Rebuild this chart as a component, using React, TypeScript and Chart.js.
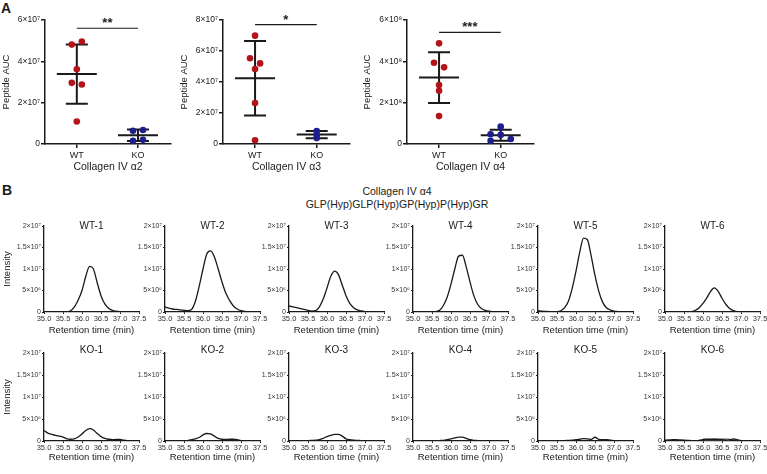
import React, { useEffect, useRef } from 'react';
import { Chart, registerables } from 'chart.js';

Chart.register(...registerables);

const FONT = '"Liberation Sans", Arial, Helvetica, sans-serif';
Chart.defaults.font.family = FONT;
Chart.defaults.color = '#222';

// ---------------- Panel A data ----------------
const groupLabels = ['WT', 'KO'];

const a2WT = [4.81e7, 4.96e7, 3.62e7, 2.96e7, 2.88e7, 1.09e7];
const a2KO = [0.64e7, 0.68e7, 0.16e7, 0.2e7];
const a2WTJitter = [-1, 1, 0, -1, 1, 0];
const a2KOJitter = [-1, 1, -1, 1];

const a3WT = [6.99e7, 5.53e7, 5.2e7, 4.84e7, 2.65e7, 0.24e7];
const a3KO = [0.84e7, 0.6e7, 0.38e7];
const a3WTJitter = [0, -1, 1, 0, 0, 0];
const a3KOJitter = [0, 0, 0];

const a4WT = [4.87e8, 3.93e8, 3.71e8, 2.85e8, 2.58e8, 1.35e8];
const a4KO = [0.84e8, 0.47e8, 0.44e8, 0.24e8, 0.15e8];
const a4WTJitter = [0, -1, 1, 0, 0, 0];
const a4KOJitter = [0, -2, 0, 2, -2];

const a2YTicks = ['0', '2×10⁷', '4×10⁷', '6×10⁷'];
const a3YTicks = ['0', '2×10⁷', '4×10⁷', '6×10⁷', '8×10⁷'];
const a4YTicks = ['0', '2×10⁸', '4×10⁸', '6×10⁸'];
const yMaxA = [6e7, 8e7, 6e8];
const yStepA = [2e7, 2e7, 2e8];

const panelATitles = ['Collagen IV α2', 'Collagen IV α3', 'Collagen IV α4'];
const sigMarks = ['**', '*', '***'];
const sigLevels = [5.6e7, 7.7e7, 5.4e8];

// ---------------- Panel B data (intensity in units of 1e6) ----------------
const rtGrid = [35.0, 35.1, 35.2, 35.3, 35.4, 35.5, 35.6, 35.7, 35.8, 35.9, 36.0, 36.1, 36.2,
  36.3, 36.4, 36.5, 36.6, 36.7, 36.8, 36.9, 37.0, 37.1, 37.2, 37.3, 37.4, 37.5];

const wt1 = [0, 0, 0, 0, 0, 0, 0.05, 0.3, 1.2, 2.8, 5.0, 8.3, 10.6, 10.0, 6.8, 3.8, 1.9, 0.9, 0.4, 0.2, 0.1, 0.05, 0, 0];
const wt2 = [1.2, 0.9, 0.7, 0.6, 0.5, 0.4, 0.3, 0.6, 2.5, 6.0, 10.0, 13.5, 14.2, 12.8, 10.0, 7.0, 4.4, 2.7, 1.4, 0.7, 0.3, 0.15, 0.05, 0];
const wt3 = [1.4, 1.2, 1.0, 0.8, 0.6, 0.4, 0.2, 0.3, 1.2, 3.0, 5.6, 8.3, 9.5, 8.7, 6.3, 3.8, 2.0, 1.0, 0.5, 0.25, 0.1, 0.05, 0];
const wt4 = [0, 0, 0, 0, 0, 0, 0.1, 0.4, 1.5, 3.5, 6.5, 10.0, 13.0, 13.2, 10.5, 7.0, 3.8, 1.8, 0.8, 0.4, 0.2, 0.1, 0.05, 0.02, 0];
const wt5 = [0.3, 0.2, 0.15, 0.1, 0.1, 0.1, 0.3, 1.0, 2.5, 5.5, 9.5, 14.0, 17.2, 16.8, 13.0, 8.5, 4.8, 2.3, 1.0, 0.5, 0.2, 0.1, 0.05, 0];
const wt6 = [0, 0, 0, 0, 0, 0, 0, 0.1, 0.4, 1.0, 2.0, 3.3, 4.8, 5.6, 4.8, 3.2, 1.8, 0.8, 0.3, 0.1, 0.05, 0, 0, 0];

const ko1 = [2.4, 1.8, 1.5, 1.3, 1.1, 0.9, 0.5, 0.4, 0.5, 0.9, 1.6, 2.4, 2.8, 2.5, 1.7, 1.0, 0.6, 0.4, 0.3, 0.35, 0.35, 0.2, 0.1, 0.05];
const ko2 = [0, 0, 0, 0, 0, 0.05, 0.1, 0.3, 0.5, 0.8, 1.4, 1.7, 1.6, 1.1, 0.6, 0.4, 0.35, 0.4, 0.4, 0.3, 0.1, 0];
const ko3 = [0, 0, 0, 0, 0, 0.1, 0.15, 0.2, 0.3, 0.6, 1.0, 1.3, 1.5, 1.5, 1.1, 0.5, 0.3, 0.2, 0.15, 0.1, 0.05, 0];
const ko4 = [0.05, 0.05, 0.05, 0.05, 0.05, 0.05, 0.05, 0.1, 0.15, 0.3, 0.5, 0.7, 0.9, 0.9, 0.6, 0.3, 0.15, 0.1, 0.05, 0.05, 0];
const ko5 = [0.05, 0.05, 0.05, 0.05, 0.05, 0.05, 0.05, 0.1, 0.15, 0.2, 0.3, 0.4, 0.55, 0.5, 0.35, 0.85, 0.35, 0.3, 0.3, 0.2, 0.1, 0];
const ko6 = [0.2, 0.25, 0.3, 0.3, 0.25, 0.2, 0.15, 0.1, 0.1, 0.15, 0.3, 0.35, 0.35, 0.4, 0.35, 0.3, 0.2, 0.3, 0.45, 0.3, 0.1, 0.05, 0];
const ko6GrayTimes = [36.0, 36.1, 36.2, 36.3, 36.4, 36.5, 36.6, 36.7];
const ko6Gray = [0.4, 0.42, 0.42, 0.42, 0.42, 0.42, 0.4, 0.35];

const wtNames = ['WT-1', 'WT-2', 'WT-3', 'WT-4', 'WT-5', 'WT-6'];
const koNames = ['KO-1', 'KO-2', 'KO-3', 'KO-4', 'KO-5', 'KO-6'];
const traceYTicks = ['0', '5×10⁶', '1×10⁷', '1.5×10⁷', '2×10⁷'];

const RED = '#b3141c';
const BLUE = '#1e1e8e';
const INK = '#1a1a1a';

// ---------------- plugins ----------------
const meanSdPlugin = {
  id: 'meanSd',
  beforeDatasetsDraw(chart: any, _a: any, opts: any) {
    const { ctx } = chart;
    const x = chart.scales.x;
    const y = chart.scales.y;
    ctx.save();
    ctx.strokeStyle = INK;
    ctx.lineWidth = 2;
    chart.data.datasets.forEach((ds: any, di: number) => {
      const vals = ds.data.map((p: any) => p.y);
      const n = vals.length;
      const m = vals.reduce((a: number, b: number) => a + b, 0) / n;
      const sd = Math.sqrt(vals.reduce((a: number, b: number) => a + (b - m) * (b - m), 0) / (n - 1));
      const cx = x.getPixelForValue(di + 1);
      const ym = y.getPixelForValue(m);
      const yt = y.getPixelForValue(m + sd);
      const yb = y.getPixelForValue(Math.max(m - sd, 0));
      ctx.beginPath();
      ctx.moveTo(cx - 20, ym); ctx.lineTo(cx + 20, ym);
      ctx.moveTo(cx, yt); ctx.lineTo(cx, yb);
      ctx.moveTo(cx - 11, yt); ctx.lineTo(cx + 11, yt);
      ctx.moveTo(cx - 11, yb); ctx.lineTo(cx + 11, yb);
      ctx.stroke();
    });
    // significance bar
    const x1 = x.getPixelForValue(1);
    const x2 = x.getPixelForValue(2);
    const ys = y.getPixelForValue(opts.level);
    ctx.lineWidth = 1.2;
    ctx.beginPath();
    ctx.moveTo(x1, ys); ctx.lineTo(x2, ys);
    ctx.stroke();
    ctx.fillStyle = INK;
    ctx.font = `bold 13px ${FONT}`;
    ctx.textAlign = 'center';
    ctx.textBaseline = 'alphabetic';
    ctx.fillText(opts.mark, (x1 + x2) / 2, ys - 1);
    ctx.restore();
  },
};

const panelTitlePlugin = {
  id: 'panelTitle',
  afterDraw(chart: any, _a: any, opts: any) {
    if (!opts || !opts.text) return;
    const { ctx, chartArea } = chart;
    ctx.save();
    ctx.font = `10px ${FONT}`;
    ctx.fillStyle = INK;
    ctx.textAlign = 'center';
    ctx.textBaseline = 'middle';
    ctx.fillText(opts.text, (chartArea.left + chartArea.right) / 2, chartArea.top + opts.offset);
    ctx.restore();
  },
};

// ---------------- Panel A chart ----------------
function ScatterChart(props: any) {
  const ref = useRef<HTMLCanvasElement>(null);
  const { left, yWidth, plotWidth, wt, ko, wtJ, koJ, idx, yTicks } = props;
  const width = yWidth + plotWidth + 4;
  const height = 173;
  useEffect(() => {
    const JIT = 0.082;
    const chart = new Chart(ref.current as HTMLCanvasElement, {
      type: 'scatter',
      data: {
        datasets: [
          {
            data: wt.map((v: number, i: number) => ({ x: 1 + wtJ[i] * JIT, y: v })),
            backgroundColor: RED, borderColor: RED, pointRadius: 3.3, pointHoverRadius: 3.3, borderWidth: 0,
          },
          {
            data: ko.map((v: number, i: number) => ({ x: 2 + koJ[i] * JIT, y: v })),
            backgroundColor: BLUE, borderColor: BLUE, pointRadius: 3.3, pointHoverRadius: 3.3, borderWidth: 0,
          },
        ],
      },
      options: {
        responsive: false,
        animation: false,
        layout: { padding: { top: 20, right: 4, left: 0, bottom: 0 } },
        plugins: {
          legend: { display: false },
          tooltip: { enabled: false },
          meanSd: { mark: sigMarks[idx], level: sigLevels[idx] },
        } as any,
        scales: {
          x: {
            type: 'linear', min: 0.48, max: 2.54,
            afterBuildTicks: (s: any) => { s.ticks = [{ value: 1 }, { value: 2 }]; },
            ticks: {
              callback: (_v: any, i: number) => groupLabels[i],
              font: { size: 9 }, color: INK, padding: 2, maxRotation: 0, autoSkip: false,
            },
            grid: { drawOnChartArea: false, tickLength: 4, color: INK, lineWidth: 1.5 },
            border: { color: INK, width: 1.5 },
            title: { display: true, text: panelATitles[idx], font: { size: 10.5 }, color: INK, padding: 0 },
            afterFit: (s: any) => { s.height = 29; },
          },
          y: {
            min: 0, max: yMaxA[idx],
            ticks: {
              stepSize: yStepA[idx],
              callback: (_v: any, i: number) => yTicks[i],
              font: { size: 8.5 }, color: INK, padding: 1,
            },
            grid: { drawOnChartArea: false, tickLength: 4, color: INK, lineWidth: 1.5 },
            border: { color: INK, width: 1.5 },
            title: { display: true, text: 'Peptide AUC', font: { size: 9.5 }, color: INK, padding: { top: 1, bottom: 0 } },
            afterFit: (s: any) => { s.width = yWidth; },
          },
        },
      } as any,
      plugins: [meanSdPlugin as any],
    });
    return () => chart.destroy();
  }, []);
  return (
    <canvas ref={ref} width={width} height={height}
      style={{ position: 'absolute', left, top: 0 }} />
  );
}

// ---------------- Panel B chart ----------------
function TraceChart(props: any) {
  const ref = useRef<HTMLCanvasElement>(null);
  const { axisX, plotTop, plotH, xH, titleOffset, col, name, series, grayTimes, gray } = props;
  const yWidth = col === 0 ? 44 : 40;
  const left = axisX - yWidth;
  const width = yWidth + 95 + 10;
  const top = plotTop - 8;
  const height = 8 + plotH + xH;
  useEffect(() => {
    const datasets: any[] = [
      {
        data: series.map((v: number, i: number) => ({ x: rtGrid[i], y: v * 1e6 })),
        borderColor: INK, borderWidth: 1.3, pointRadius: 0, fill: false,
        cubicInterpolationMode: 'monotone',
      },
    ];
    if (gray) {
      datasets.push({
        data: gray.map((v: number, i: number) => ({ x: grayTimes[i], y: v * 1e6 })),
        borderColor: '#8a8a8a', borderWidth: 2, pointRadius: 0, fill: false,
        cubicInterpolationMode: 'monotone',
      });
    }
    const chart = new Chart(ref.current as HTMLCanvasElement, {
      type: 'line',
      data: { datasets },
      options: {
        responsive: false,
        animation: false,
        layout: { padding: { top: 8, right: 10, left: 0, bottom: 0 } },
        plugins: {
          legend: { display: false },
          tooltip: { enabled: false },
          panelTitle: { text: name, offset: titleOffset },
        } as any,
        scales: {
          x: {
            type: 'linear', min: 35, max: 37.5,
            ticks: {
              stepSize: 0.5, font: { size: 7.5 }, color: '#333', padding: 0,
              maxRotation: 0, autoSkip: false,
              callback: (v: any) => Number(v).toFixed(1),
            },
            grid: { drawOnChartArea: false, tickLength: 2, color: INK, lineWidth: 1 },
            border: { color: INK, width: 1.3 },
            title: { display: true, text: 'Retention time (min)', font: { size: 9.5 }, color: INK, padding: 0 },
            afterFit: (s: any) => { s.height = xH; },
          },
          y: {
            min: 0, max: 2e7,
            ticks: {
              stepSize: 5e6, font: { size: 7 }, color: '#333', padding: 1,
              callback: (_v: any, i: number) => traceYTicks[i],
            },
            grid: { drawOnChartArea: false, tickLength: 2, color: INK, lineWidth: 1 },
            border: { color: INK, width: 1.3 },
            title: { display: col === 0, text: 'Intensity', font: { size: 9.5 }, color: INK, padding: { top: 1.3, bottom: 0 } },
            afterFit: (s: any) => { s.width = yWidth; },
          },
        },
      } as any,
      plugins: [panelTitlePlugin as any],
    });
    return () => chart.destroy();
  }, []);
  return (
    <canvas ref={ref} width={width} height={height}
      style={{ position: 'absolute', left, top }} />
  );
}

const textStyle: React.CSSProperties = {
  position: 'absolute', fontFamily: FONT, color: INK, whiteSpace: 'nowrap',
};

export default function App() {
  const colAxes = [44, 165, 289, 413, 538, 665];
  const wtSeries = [wt1, wt2, wt3, wt4, wt5, wt6];
  const koSeries = [ko1, ko2, ko3, ko4, ko5, ko6];
  return (
    <div style={{ position: 'absolute', left: 0, top: 0, width: 767, height: 474, overflow: 'hidden', background: '#fff' }}>
      <div style={{ ...textStyle, left: 1, top: 0, fontSize: 14, fontWeight: 'bold', lineHeight: '16px' }}>A</div>
      <div style={{ ...textStyle, left: 2, top: 182, fontSize: 14, fontWeight: 'bold', lineHeight: '16px' }}>B</div>

      <ScatterChart left={0} yWidth={45} plotWidth={126} wt={a2WT} ko={a2KO} wtJ={a2WTJitter} koJ={a2KOJitter} idx={0} yTicks={a2YTicks} />
      <ScatterChart left={178} yWidth={45} plotWidth={127} wt={a3WT} ko={a3KO} wtJ={a3WTJitter} koJ={a3KOJitter} idx={1} yTicks={a3YTicks} />
      <ScatterChart left={361} yWidth={46} plotWidth={127} wt={a4WT} ko={a4KO} wtJ={a4WTJitter} koJ={a4KOJitter} idx={2} yTicks={a4YTicks} />

      <div style={{ ...textStyle, left: 247, width: 300, textAlign: 'center', top: 185, fontSize: 10.5, lineHeight: '12.5px' }}>
        Collagen IV α4<br />GLP(Hyp)GLP(Hyp)GP(Hyp)P(Hyp)GR
      </div>

      {colAxes.map((ax, c) => (
        <TraceChart key={'wt' + c} axisX={ax} plotTop={226} plotH={86} xH={24} titleOffset={0.5}
          col={c} name={wtNames[c]} series={wtSeries[c]} />
      ))}
      {colAxes.map((ax, c) => (
        <TraceChart key={'ko' + c} axisX={ax} plotTop={353} plotH={88} xH={22} titleOffset={-3}
          col={c} name={koNames[c]} series={koSeries[c]}
          grayTimes={c === 5 ? ko6GrayTimes : undefined} gray={c === 5 ? ko6Gray : undefined} />
      ))}
    </div>
  );
}
